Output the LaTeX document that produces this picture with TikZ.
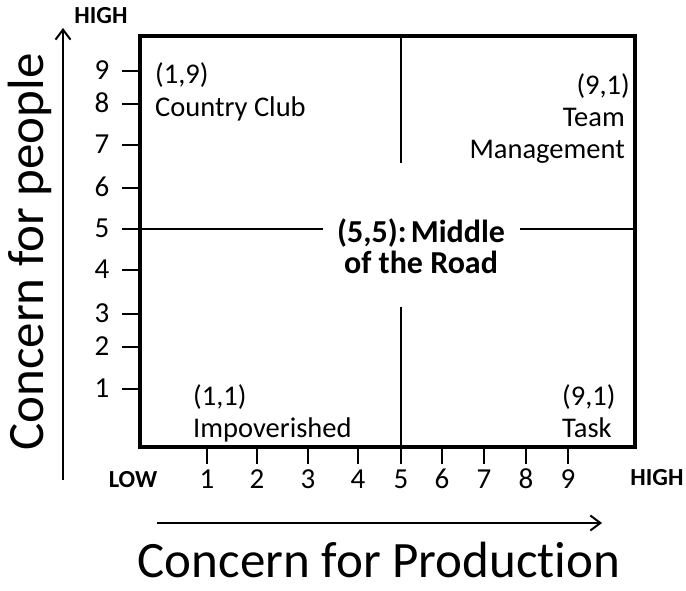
\documentclass[tikz,border=0pt]{standalone}
\usepackage{fontspec}
\setmainfont{Carlito}[Ligatures=NoCommon]
\usetikzlibrary{arrows.meta}
\begin{document}
\begin{tikzpicture}[x=1pt,y=-1pt,
  frame/.style={line width=4.5pt, line join=miter},
  divider/.style={line width=2.8pt},
  tickline/.style={line width=1.5pt},
  axisarrow/.style={line width=2pt, -{Straight Barb[length=10pt,width=15pt,line width=2pt]}},
  ticklabel/.style={font=\fontsize{29}{31}\selectfont, inner sep=0pt},
  endlabel/.style={font=\bfseries\fontsize{24.5}{26}\selectfont, inner sep=0pt},
  quad/.style={font=\fontsize{28.5}{31}\selectfont, inner sep=0pt},
  midlabel/.style={font=\bfseries\fontsize{32}{35}\selectfont, inner sep=0pt},
  axistitle/.style={font=\fontsize{51}{54}\selectfont, inner sep=0pt},
]
\useasboundingbox (0,0) rectangle (686,591);

% frame corners
\coordinate (tl) at (140,36);
\coordinate (br) at (635,447);
\draw[frame] (tl) rectangle (br);

% dividers
\coordinate (hL) at (140,229);
\coordinate (hLe) at (323,229);
\coordinate (hRs) at (520,229);
\coordinate (hR) at (635,229);
\coordinate (vT) at (401,36);
\coordinate (vTe) at (401,163);
\coordinate (vBs) at (401,307);
\coordinate (vB) at (401,447);
\draw[divider] (hL) -- (hLe);
\draw[divider] (hRs) -- (hR);
\draw[divider] (vT) -- (vTe);
\draw[divider] (vBs) -- (vB);

% centre label
\node[midlabel, anchor=base] (mid1) at (421,242) {(5,5):\kern-3pt\ Middle};
\node[midlabel, anchor=base] (mid2) at (421,273) {of the Road};

% y ticks
\foreach \v/\yy in {9/71, 8/104, 7/145, 6/188, 5/229, 4/270, 3/314, 2/347, 1/389}{
  \coordinate (yt\v) at (140,\yy);
  \coordinate (ys\v) at (122,\yy);
  \draw[tickline] (yt\v) -- (ys\v);
  \node[ticklabel] (yl\v) at (102,\yy-1) {\v};
}
% x ticks
\foreach \v/\xx in {1/207, 2/257, 3/308, 4/358, 5/401, 6/442, 7/484, 8/526, 9/568}{
  \coordinate (xt\v) at (\xx,447);
  \coordinate (xs\v) at (\xx,464);
  \draw[tickline] (xt\v) -- (xs\v);
  \node[ticklabel] (xl\v) at (\xx,479) {\v};
}

% end labels
\node[endlabel] (hightop) at (101,16) {HIGH};
\node[endlabel] (low) at (133,480) {LOW};
\node[endlabel] (highright) at (657,478) {HIGH};

% axis arrows
\coordinate (ya0) at (63,480);
\coordinate (ya1) at (63,28);
\draw[axisarrow] (ya0) -- (ya1);
\coordinate (xa0) at (157,523);
\coordinate (xa1) at (602,523);
\draw[axisarrow] (xa0) -- (xa1);

% axis titles
\node[axistitle, rotate=90, anchor=base] (ytitle) at (43,252) {Concern for people};
\node[axistitle, anchor=base] (xtitle) at (379,577) {Concern for Production};

% quadrant labels
\node[quad, anchor=base west] (cc1) at (155,84) {(1,9)};
\node[quad, anchor=base west] (cc2) at (155,117) {Country Club};
\node[quad, anchor=base east] (tm1) at (630,95) {(9,1)};
\node[quad, anchor=base east] (tm2) at (625,127) {Team};
\node[quad, anchor=base east] (tm3) at (625,159) {Management};
\node[quad, anchor=base west] (im1) at (193,405) {(1,1)};
\node[quad, anchor=base west] (im2) at (193,437) {Impoverished};
\node[quad, anchor=base west] (tk1) at (562,405) {(9,1)};
\node[quad, anchor=base west] (tk2) at (562,437) {Task};
\end{tikzpicture}
\end{document}
